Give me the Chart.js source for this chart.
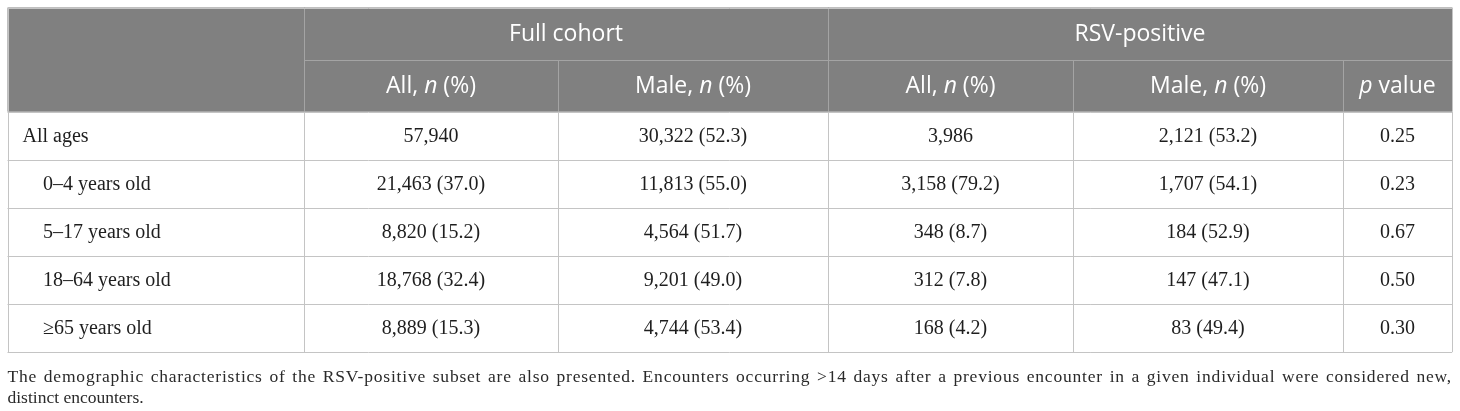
<!DOCTYPE html>
<html>
<head>
<meta charset="utf-8">
<script src="https://cdn.jsdelivr.net/npm/chart.js@4.4.1/dist/chart.umd.min.js"></script>
<style>
  html, body { margin: 0; padding: 0; background: #fff; }
  #wrap { position: relative; width: 1460px; height: 411px; }
  #caption {
    position: absolute; left: 7.5px; top: 366px; width: 1444.5px;
    font: 17.5px "Liberation Serif", serif; line-height: 21px; color: #2a2a2a;
    text-align: justify;
  }
  #caption .l1 { text-align-last: justify; letter-spacing: 0.8px; white-space: nowrap; }
</style>
</head>
<body>
<div id="wrap">
  <canvas id="tableChart"></canvas>
  <div id="caption">
    <div class="l1">The demographic characteristics of the RSV-positive subset are also presented. Encounters occurring &gt;14 days after a previous encounter in a given individual were considered new,</div>
    <div>distinct encounters.</div>
  </div>
</div>
<script>
// group headers and their column spans
var GROUPS = ['', 'Full cohort', 'RSV-positive'];
var GROUP_SPANS = [1, 2, 3];
// column headers, [text, italic] pieces
var COLUMNS = [
    [],
    [['All, ', false], ['n', true], [' (%)', false]],
    [['Male, ', false], ['n', true], [' (%)', false]],
    [['All, ', false], ['n', true], [' (%)', false]],
    [['Male, ', false], ['n', true], [' (%)', false]],
    [['p', true], [' value', false]]
];
var AGE_GROUPS = ['All ages', '0\u20134 years old', '5\u201317 years old', '18\u201364 years old', '\u226565 years old'];
var FULL_ALL = [57940, 21463, 8820, 18768, 8889];
var FULL_ALL_PCT = [null, 37.0, 15.2, 32.4, 15.3];
var FULL_MALE = [30322, 11813, 4564, 9201, 4744];
var FULL_MALE_PCT = [52.3, 55.0, 51.7, 49.0, 53.4];
var RSV_ALL = [3986, 3158, 348, 312, 168];
var RSV_ALL_PCT = [null, 79.2, 8.7, 7.8, 4.2];
var RSV_MALE = [2121, 1707, 184, 147, 83];
var RSV_MALE_PCT = [53.2, 54.1, 52.9, 47.1, 49.4];
var P_VALUES = [0.25, 0.23, 0.67, 0.50, 0.30];

// layout (table units)
var COL_WIDTHS = [296.5, 254, 270, 245, 270, 109];
var HEAD_HEIGHTS = [52.5, 51.7];
var BODY_ROW_H = 48.1;

var HEAD_BG = '#808080';
var HEAD_LINE = '#a4a4a4';
var BODY_LINE = '#c4c4c4';
var HEAD_FONT = '"Open Sans", sans-serif';
var BODY_FONT = '"Liberation Serif", serif';

function cumulative(arr) {
    var out = [0];
    arr.forEach(function(w) { out.push(out[out.length - 1] + w); });
    return out;
}
var colEdges = cumulative(COL_WIDTHS);
var headEdges = cumulative(HEAD_HEIGHTS);
var bodyEdges = AGE_GROUPS.map(function(_, i) { return headEdges[2] + BODY_ROW_H * (i + 1); });
bodyEdges.unshift(headEdges[2]);
var TABLE_W = colEdges[colEdges.length - 1];
var TABLE_H = bodyEdges[bodyEdges.length - 1];

function fmt(n, pct) {
    var s = n.toLocaleString('en-US');
    if (pct !== null && pct !== undefined) s += ' (' + pct.toFixed(1) + ')';
    return s;
}

var bodyCells = AGE_GROUPS.map(function(_, i) {
    return [
        fmt(FULL_ALL[i], FULL_ALL_PCT[i]),
        fmt(FULL_MALE[i], FULL_MALE_PCT[i]),
        fmt(RSV_ALL[i], RSV_ALL_PCT[i]),
        fmt(RSV_MALE[i], RSV_MALE_PCT[i]),
        P_VALUES[i].toFixed(2)
    ];
});

function px(v) { return Math.round(v) + 0.5; }

function drawPieces(ctx, pieces, cx, cy, size) {
    var widths = pieces.map(function(p) {
        ctx.font = (p[1] ? 'italic ' : '') + size + 'px ' + HEAD_FONT;
        return ctx.measureText(p[0]).width;
    });
    var total = widths.reduce(function(a, b) { return a + b; }, 0);
    var x = cx - total / 2;
    pieces.forEach(function(p, i) {
        ctx.font = (p[1] ? 'italic ' : '') + size + 'px ' + HEAD_FONT;
        ctx.fillText(p[0], x, cy);
        x += widths[i];
    });
}

var tablePlugin = {
    id: 'tablePlugin',
    afterDraw: function(chart) {
        var ctx = chart.ctx;
        var xs = chart.scales.x, ys = chart.scales.y;
        var X = function(v) { return xs.getPixelForValue(v); };
        var Y = function(v) { return ys.getPixelForValue(v); };
        ctx.save();

        // header background
        ctx.fillStyle = HEAD_BG;
        ctx.fillRect(X(0), Y(0), X(TABLE_W) - X(0), Y(headEdges[2]) - Y(0));

        ctx.lineWidth = 1;
        function line(x1, y1, x2, y2, color) {
            ctx.strokeStyle = color;
            ctx.beginPath();
            ctx.moveTo(x1, y1);
            ctx.lineTo(x2, y2);
            ctx.stroke();
        }

        // header lines
        line(X(colEdges[1]), px(Y(headEdges[1])), X(TABLE_W), px(Y(headEdges[1])), HEAD_LINE);
        var g = 0, spanEnd = [];
        GROUP_SPANS.forEach(function(s) { g += s; spanEnd.push(g); });
        for (var c = 1; c < colEdges.length - 1; c++) {
            var top = spanEnd.indexOf(c) >= 0 ? headEdges[0] : headEdges[1];
            line(px(X(colEdges[c])), Y(top), px(X(colEdges[c])), Y(headEdges[2]), HEAD_LINE);
        }

        // body grid
        bodyEdges.forEach(function(e) {
            line(X(0), px(Y(e)), X(TABLE_W), px(Y(e)), BODY_LINE);
        });
        colEdges.forEach(function(e) {
            line(px(X(e)), Y(headEdges[2]), px(X(e)), Y(TABLE_H), BODY_LINE);
        });
        // outer frame of header
        line(X(0), px(Y(0)), X(TABLE_W), px(Y(0)), BODY_LINE);
        line(px(X(0)), Y(0), px(X(0)), Y(headEdges[2]), BODY_LINE);
        line(px(X(TABLE_W)), Y(0), px(X(TABLE_W)), Y(headEdges[2]), BODY_LINE);

        // header texts
        ctx.fillStyle = '#ffffff';
        ctx.textBaseline = 'middle';
        ctx.textAlign = 'left';
        var start = 0;
        GROUPS.forEach(function(name, i) {
            var end = start + GROUP_SPANS[i];
            if (name) {
                drawPieces(ctx, [[name, false]], (X(colEdges[start]) + X(colEdges[end])) / 2,
                    (Y(headEdges[0]) + Y(headEdges[1])) / 2 + 1, 23);
            }
            start = end;
        });
        COLUMNS.forEach(function(pieces, i) {
            if (!pieces.length) return;
            drawPieces(ctx, pieces, (X(colEdges[i]) + X(colEdges[i + 1])) / 2,
                (Y(headEdges[1]) + Y(headEdges[2])) / 2 + 1, 23);
        });

        // body texts
        ctx.fillStyle = '#1e1e1e';
        ctx.font = '20px ' + BODY_FONT;
        AGE_GROUPS.forEach(function(label, r) {
            var cy = (Y(bodyEdges[r]) + Y(bodyEdges[r + 1])) / 2 + 1;
            ctx.textAlign = 'left';
            ctx.fillText(label, X(0) + (r === 0 ? 15 : 35.5), cy);
            ctx.textAlign = 'center';
            bodyCells[r].forEach(function(txt, c) {
                ctx.fillText(txt, (X(colEdges[c + 1]) + X(colEdges[c + 2])) / 2, cy);
            });
        });
        ctx.restore();
    }
};

function build() {
    new Chart(document.getElementById('tableChart'), {
        type: 'scatter',
        data: { datasets: [{ data: [], pointRadius: 0 }] },
        options: {
            responsive: true,
            maintainAspectRatio: false,
            animation: false,
            events: [],
            layout: { padding: { left: 7.5, top: 7.5, right: 1460 - 7.5 - TABLE_W, bottom: 411 - 7.5 - TABLE_H } },
            plugins: { legend: { display: false }, tooltip: { enabled: false } },
            scales: {
                x: { type: 'linear', display: false, min: 0, max: TABLE_W },
                y: { type: 'linear', display: false, reverse: true, min: 0, max: TABLE_H }
            }
        },
        plugins: [tablePlugin]
    });
}

document.addEventListener('DOMContentLoaded', function() {
    var loads = ['23px "Open Sans"', 'italic 23px "Open Sans"', '20px "Liberation Serif"'].map(function(f) {
        return document.fonts.load(f);
    });
    Promise.all(loads).then(build, build);
});
</script>
</body>
</html>
